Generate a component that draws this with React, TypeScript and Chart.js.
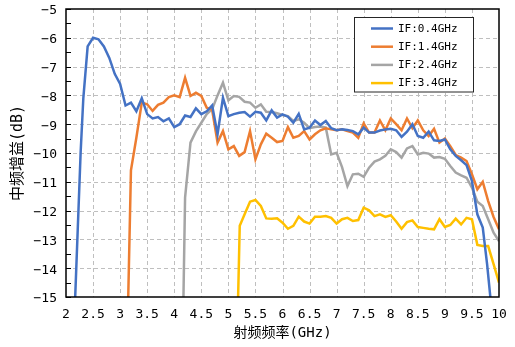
import React, { useEffect, useRef } from "react";
import { Chart, registerables } from "chart.js";

Chart.register(...registerables);

const seriesLabels = ["IF:0.4GHz", "IF:1.4GHz", "IF:2.4GHz", "IF:3.4GHz"];
const seriesColors = ["#4472C4", "#ED7D31", "#A5A5A5", "#FFC000"];

const blueX = [2.17, 2.27, 2.32, 2.4, 2.5, 2.6, 2.7, 2.8, 2.9, 3.0, 3.1, 3.2, 3.3, 3.4, 3.5, 3.6, 3.7, 3.8, 3.9, 4.0, 4.1, 4.2, 4.3, 4.4, 4.5, 4.6, 4.7, 4.8, 4.9, 5.0, 5.1, 5.2, 5.3, 5.4, 5.5, 5.6, 5.7, 5.8, 5.9, 6.0, 6.1, 6.2, 6.3, 6.4, 6.5, 6.6, 6.7, 6.8, 6.9, 7.0, 7.1, 7.2, 7.3, 7.4, 7.5, 7.6, 7.7, 7.8, 7.9, 8.0, 8.1, 8.2, 8.3, 8.4, 8.5, 8.6, 8.7, 8.8, 8.9, 9.0, 9.1, 9.2, 9.3, 9.4, 9.5, 9.6, 9.7, 9.78, 9.84];
const blueY = [-15, -10.0, -8.1, -6.3, -6.0, -6.05, -6.3, -6.7, -7.25, -7.6, -8.35, -8.25, -8.55, -8.1, -8.65, -8.8, -8.75, -8.9, -8.8, -9.1, -9.0, -8.7, -8.75, -8.45, -8.65, -8.55, -8.35, -9.35, -8.08, -8.72, -8.65, -8.6, -8.58, -8.74, -8.57, -8.6, -8.87, -8.52, -8.77, -8.66, -8.74, -8.95, -8.64, -9.18, -9.12, -8.87, -9.03, -8.89, -9.14, -9.21, -9.18, -9.2, -9.24, -9.35, -9.12, -9.29, -9.29, -9.22, -9.18, -9.16, -9.21, -9.44, -9.26, -9.0, -9.41, -9.47, -9.26, -9.56, -9.58, -9.53, -9.87, -10.1, -10.25, -10.42, -10.97, -12.13, -12.59, -13.86, -15];

const orangeX = [3.15, 3.2, 3.3, 3.4, 3.5, 3.6, 3.7, 3.8, 3.9, 4.0, 4.1, 4.2, 4.3, 4.4, 4.5, 4.6, 4.7, 4.8, 4.9, 5.0, 5.1, 5.2, 5.3, 5.4, 5.5, 5.6, 5.7, 5.8, 5.9, 6.0, 6.1, 6.2, 6.3, 6.4, 6.5, 6.6, 6.7, 6.8, 6.9, 7.0, 7.1, 7.2, 7.3, 7.4, 7.5, 7.6, 7.7, 7.8, 7.9, 8.0, 8.1, 8.2, 8.3, 8.4, 8.5, 8.6, 8.7, 8.8, 8.9, 9.0, 9.1, 9.2, 9.3, 9.4, 9.5, 9.6, 9.7, 9.8, 9.9, 10.0];
const orangeY = [-15, -10.6, -9.47, -8.25, -8.31, -8.54, -8.33, -8.25, -8.06, -8.0, -8.06, -7.39, -8.02, -7.91, -8.02, -8.43, -8.5, -9.64, -9.24, -9.87, -9.76, -10.1, -9.97, -9.24, -10.22, -9.7, -9.33, -9.47, -9.62, -9.58, -9.1, -9.47, -9.41, -9.24, -9.53, -9.35, -9.21, -9.14, -9.18, -9.21, -9.18, -9.24, -9.29, -9.47, -8.97, -9.29, -9.29, -8.87, -9.21, -8.8, -9.0, -9.21, -8.8, -9.14, -8.87, -9.21, -9.41, -9.16, -9.64, -9.5, -9.76, -10.07, -10.16, -10.28, -10.74, -11.26, -11.0, -11.67, -12.22, -12.65];

const grayX = [4.17, 4.2, 4.3, 4.4, 4.5, 4.6, 4.7, 4.8, 4.9, 5.0, 5.1, 5.2, 5.3, 5.4, 5.5, 5.6, 5.7, 5.8, 5.9, 6.0, 6.1, 6.2, 6.3, 6.4, 6.5, 6.6, 6.7, 6.8, 6.9, 7.0, 7.1, 7.2, 7.3, 7.4, 7.5, 7.6, 7.7, 7.8, 7.9, 8.0, 8.1, 8.2, 8.3, 8.4, 8.5, 8.6, 8.7, 8.8, 8.9, 9.0, 9.1, 9.2, 9.3, 9.4, 9.5, 9.6, 9.7, 9.8, 9.9, 10.0];
const grayY = [-15, -11.55, -9.64, -9.25, -8.95, -8.65, -8.48, -8.0, -7.56, -8.17, -8.02, -8.05, -8.22, -8.25, -8.43, -8.31, -8.57, -8.58, -8.62, -8.68, -8.72, -8.89, -8.83, -8.95, -9.14, -9.1, -9.08, -9.12, -10.05, -9.99, -10.49, -11.15, -10.74, -10.72, -10.83, -10.51, -10.3, -10.22, -10.1, -9.87, -9.97, -10.16, -9.84, -9.76, -10.05, -9.99, -10.02, -10.16, -10.14, -10.2, -10.45, -10.68, -10.78, -10.86, -11.2, -11.69, -11.84, -12.3, -12.77, -13.06];

const yellowX = [5.18, 5.21, 5.3, 5.4, 5.5, 5.6, 5.7, 5.8, 5.9, 6.0, 6.1, 6.2, 6.3, 6.4, 6.5, 6.6, 6.7, 6.8, 6.9, 7.0, 7.1, 7.2, 7.3, 7.4, 7.5, 7.6, 7.7, 7.8, 7.9, 8.0, 8.1, 8.2, 8.3, 8.4, 8.5, 8.6, 8.7, 8.8, 8.9, 9.0, 9.1, 9.2, 9.3, 9.4, 9.5, 9.6, 9.7, 9.8, 9.9, 10.0];
const yellowY = [-15, -12.53, -12.13, -11.69, -11.63, -11.84, -12.27, -12.28, -12.27, -12.42, -12.63, -12.53, -12.21, -12.38, -12.45, -12.21, -12.21, -12.19, -12.25, -12.45, -12.3, -12.25, -12.36, -12.33, -11.9, -11.99, -12.19, -12.13, -12.22, -12.16, -12.38, -12.63, -12.4, -12.34, -12.57, -12.6, -12.63, -12.65, -12.3, -12.57, -12.5, -12.28, -12.48, -12.25, -12.3, -13.19, -13.23, -13.23, -13.86, -14.5];

const xMin = 2;
const xMax = 10;
const yMin = -15;
const yMax = -5;
const xStep = 0.5;
const yStep = 1;
const xTitle = "射频频率(GHz)";
const yTitle = "中频增益(dB)";

const FONT = '"DejaVu Sans Mono", "Noto Sans CJK SC", sans-serif';

function zip(xs: number[], ys: number[]) {
  return xs.map((x, i) => ({ x, y: ys[i] }));
}

const gridPlugin = {
  id: "dashGrid",
  beforeDatasetsDraw(chart: any) {
    const { ctx, chartArea } = chart;
    const { left, right, top, bottom } = chartArea;
    const xs = chart.scales.x;
    const ys = chart.scales.y;
    ctx.save();
    ctx.strokeStyle = "#bfbfbf";
    ctx.lineWidth = 1;
    ctx.setLineDash([4, 3]);
    for (let v = xMin + xStep; v < xMax - 1e-9; v += xStep) {
      const px = Math.round(xs.getPixelForValue(v)) + 0.5;
      ctx.beginPath();
      ctx.moveTo(px, top);
      ctx.lineTo(px, bottom);
      ctx.stroke();
    }
    for (let v = yMin + yStep; v < yMax - 1e-9; v += yStep) {
      const py = Math.round(ys.getPixelForValue(v)) + 0.5;
      ctx.beginPath();
      ctx.moveTo(left, py);
      ctx.lineTo(right, py);
      ctx.stroke();
    }
    ctx.restore();
  },
};

const framePlugin = {
  id: "frameAndLegend",
  afterDraw(chart: any) {
    const { ctx, chartArea } = chart;
    const { left, right, top, bottom } = chartArea;
    ctx.save();
    const ys = chart.scales.y;
    ctx.strokeStyle = "#000";
    ctx.lineWidth = 1;
    for (let v = yMin; v <= yMax + 1e-9; v += 0.5) {
      const py = Math.round(ys.getPixelForValue(v)) + 0.5;
      ctx.beginPath();
      ctx.moveTo(left, py);
      ctx.lineTo(left + 5, py);
      ctx.stroke();
    }
    ctx.lineWidth = 1.5;
    ctx.strokeStyle = "#000";
    ctx.strokeRect(left, top, right - left, bottom - top);

    const bx = 354, by = 17, bw = 119, bh = 74.5;
    ctx.fillStyle = "#fff";
    ctx.fillRect(bx, by, bw, bh);
    ctx.lineWidth = 1;
    ctx.strokeStyle = "#262626";
    ctx.strokeRect(bx + 0.5, by + 0.5, bw, bh);
    const rowY = [28.5, 46.7, 64.9, 83.1];
    ctx.font = `11px ${FONT}`;
    ctx.textBaseline = "middle";
    ctx.textAlign = "left";
    chart.data.datasets.forEach((ds: any, i: number) => {
      const y = rowY[i];
      ctx.strokeStyle = ds.borderColor;
      ctx.lineWidth = 2.5;
      ctx.beginPath();
      ctx.moveTo(371, y);
      ctx.lineTo(393, y);
      ctx.stroke();
      ctx.fillStyle = "#000";
      ctx.fillText(ds.label, 398, y + 0.5);
    });
    ctx.restore();
  },
};

export default function App() {
  const ref = useRef<HTMLCanvasElement | null>(null);
  useEffect(() => {
    if (!ref.current) return;
    const datasets = [
      zip(blueX, blueY),
      zip(orangeX, orangeY),
      zip(grayX, grayY),
      zip(yellowX, yellowY),
    ].map((d, i) => ({
      label: seriesLabels[i],
      data: d,
      borderColor: seriesColors[i],
      backgroundColor: seriesColors[i],
      borderWidth: 2.5,
      pointRadius: 0,
      tension: 0,
      fill: false,
    }));
    const chart = new Chart(ref.current, {
      type: "line",
      data: { datasets },
      options: {
        animation: false,
        responsive: false,
        maintainAspectRatio: false,
        layout: { padding: { left: 0, right: 16, top: 9, bottom: 0 } },
        plugins: { legend: { display: false }, tooltip: { enabled: false } },
        scales: {
          x: {
            type: "linear",
            min: xMin,
            max: xMax,
            afterFit: (s: any) => {
              s.height = 50;
              s.paddingLeft = 0;
              s.paddingRight = 0;
            },
            ticks: {
              stepSize: xStep,
              color: "#000",
              padding: 10,
              maxRotation: 0,
              autoSkip: false,
              font: { family: FONT, size: 13 },
              callback: (v: any) => String(v),
            },
            grid: { display: false, drawTicks: false },
            border: { display: false },
            title: {
              display: true,
              text: xTitle,
              color: "#000",
              font: { family: FONT, size: 14 },
              padding: { top: 0, bottom: 5 },
            },
          },
          y: {
            type: "linear",
            min: yMin,
            max: yMax,
            afterFit: (s: any) => {
              s.width = 66;
              s.paddingTop = 0;
              s.paddingBottom = 0;
            },
            ticks: {
              stepSize: yStep,
              color: "#000",
              padding: 9,
              labelOffset: 2,
              autoSkip: false,
              font: { family: FONT, size: 13 },
              callback: (v: any) => String(v).replace("-", "\u2212"),
            },
            grid: { display: false, drawTicks: false },
            border: { display: false },
            title: {
              display: true,
              text: yTitle,
              color: "#000",
              font: { family: FONT, size: 15 },
              padding: { top: 9, bottom: 0 },
            },
          },
        },
      } as any,
      plugins: [gridPlugin, framePlugin],
    });
    return () => chart.destroy();
  }, []);
  return (
    <div style={{ position: "fixed", left: 0, top: 0, width: 515, height: 347, background: "#fff" }}>
      <canvas ref={ref} width={515} height={347} style={{ width: 515, height: 347, display: "block" }} />
    </div>
  );
}
